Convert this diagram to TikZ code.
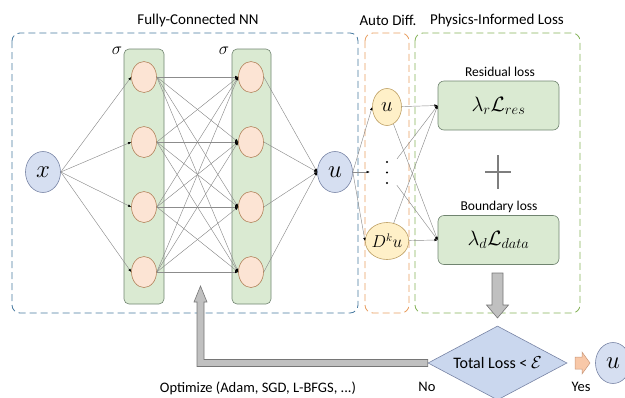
\documentclass[tikz,border=0pt]{standalone}
\usepackage{fontspec}
\setmainfont{Carlito}
\usetikzlibrary{shapes.geometric,arrows.meta,calc}

\definecolor{nnBlue}{RGB}{72,122,160}
\definecolor{adOrange}{RGB}{232,158,96}
\definecolor{lossGreen}{RGB}{132,178,88}
\definecolor{ioFill}{RGB}{214,223,241}
\definecolor{ioLine}{RGB}{120,132,165}
\definecolor{colFill}{RGB}{218,234,210}
\definecolor{colLine}{RGB}{112,132,112}
\definecolor{hidFill}{RGB}{252,228,212}
\definecolor{hidLine}{RGB}{178,132,92}
\definecolor{adFill}{RGB}{255,240,200}
\definecolor{adLine}{RGB}{190,160,100}
\definecolor{wireC}{RGB}{140,140,140}
\definecolor{blockFill}{RGB}{192,192,192}
\definecolor{blockLine}{RGB}{118,118,118}
\definecolor{yesFill}{RGB}{248,200,168}
\definecolor{yesLine}{RGB}{200,150,120}
\definecolor{diaFill}{RGB}{202,215,238}

\begin{document}
\begin{tikzpicture}[x=1pt,y=-1pt,
  group/.style={draw, line width=0.8pt, dash pattern=on 7pt off 4pt, rounded corners=8pt},
  title/.style={font=\fontsize{15}{17}\selectfont, inner sep=0pt},
  sublabel/.style={font=\fontsize{14.5}{16}\selectfont, inner sep=0pt},
  boxlabel/.style={font=\fontsize{13.5}{15}\selectfont, inner sep=0pt},
  ionode/.style={ellipse, draw=ioLine, fill=ioFill, line width=0.6pt, minimum width=35pt, minimum height=41pt, inner sep=0pt, font=\fontsize{25}{28}\selectfont},
  column/.style={draw=colLine, fill=colFill, line width=0.6pt, rounded corners=5pt, inner sep=0pt},
  hidden/.style={ellipse, draw=hidLine, fill=hidFill, line width=0.6pt, minimum width=25pt, minimum height=31pt, inner sep=0pt},
  adnode/.style={ellipse, draw=adLine, fill=adFill, line width=0.6pt, minimum width=29pt, minimum height=37pt, inner sep=0pt},
  lossbox/.style={draw=colLine, fill=colFill, line width=0.6pt, rounded corners=6pt, minimum width=121pt, minimum height=49pt, inner sep=0pt, font=\fontsize{21.5}{24}\selectfont},
  wire/.style={draw=wireC, line width=0.45pt, -{Latex[length=3.2pt,width=2.6pt,color=black]}},
  block/.style={draw=blockLine, fill=blockFill, line width=0.6pt},
]
\useasboundingbox (0,0) rectangle (625,397);

% group frames
\draw[group, nnBlue] (12,33) rectangle (358,313);
\draw[group, adOrange] (365,33) rectangle (409,313);
\draw[group, lossGreen] (415,33) rectangle (580,313);
\node[title] (tnn) at (198,20) {Fully-Connected NN};
\node[title] (tad) at (388,20) {Auto Diff.};
\node[title] (tpi) at (497,20) {Physics-Informed Loss};

% hidden layer columns
\node[column, minimum width=40pt, minimum height=255pt] (c1) at (144,176.5) {};
\node[column, minimum width=39pt, minimum height=255pt] (c2) at (251.5,176.5) {};
\node[font=\fontsize{18}{20}\selectfont, inner sep=0pt] (s1) at (117,51) {$\sigma$};
\node[font=\fontsize{18}{20}\selectfont, inner sep=0pt] (s2) at (224,51) {$\sigma$};

% input, hidden and output neurons
\node[ionode] (x) at (43,172) {$x$};
\foreach \i/\y in {1/77,2/142,3/207,4/272}{
  \node[hidden] (a\i) at (144,\y) {};
  \node[hidden] (b\i) at (251,\y) {};
}
\node[ionode] (u) at (335,172) {$u$};

% automatic differentiation outputs
\node[adnode, font=\fontsize{22}{24}\selectfont] (du) at (387,107) {$u$};
\node[minimum width=34pt, minimum height=26pt, inner sep=0pt] (dots) at (387,172) {};
\foreach \y in {162,172.5,183} \fill (387,\y) circle (1.2pt);
\node[adnode, font=\fontsize{16}{18}\selectfont] (dk) at (387,241) {$D^ku$};

% loss terms
\node[boxlabel] (lres) at (500,72) {Residual loss};
\node[lossbox] (res) at (498.5,105.5) {$\lambda_r\mathcal{L}_{res}$};
\node[boxlabel] (lbnd) at (499,207) {Boundary loss};
\node[lossbox] (bnd) at (498.5,240) {$\lambda_d\mathcal{L}_{data}$};
\draw[wireC!90!black, line width=2.6pt] (485,172) -- (511,172) (498,155) -- (498,189);

% stopping test and result
\node[diamond, draw=ioLine, fill=diaFill, line width=0.6pt, minimum width=139pt, minimum height=74pt, aspect=1.88, inner sep=0pt, font=\fontsize{16}{18}\selectfont] (stop) at (497.5,363) {Total Loss < $\mathcal{E}$};
\node[ionode] (uo) at (613,363) {$u$};
\node[sublabel] (lno) at (427,387) {No};
\node[sublabel] (lyes) at (581,387) {Yes};

% connections of the network
\foreach \i in {1,...,4}{
  \draw[wire] (x.east) -- (a\i.west);
  \foreach \j in {1,...,4} \draw[wire] (a\i.east) -- (b\j.west);
  \draw[wire] (b\i.east) -- (u.west);
}
\draw[wire] (u.east) -- (du.west);
\draw[wire] (u.east) -- (dots.west);
\draw[wire] (u.east) -- (dk.west);
\foreach \s in {du,dots,dk}{
  \draw[wire] (\s) -- (res.west);
  \draw[wire] (\s) -- (bnd.west);
}

% block arrows
\draw[block] (492,273) -- (492,305) -- (486.5,305) -- (497.5,318) -- (508.5,305) -- (503,305) -- (503,273) -- cycle;
\draw[block] ($(stop.west)+(0,-3.5)$) -- (204,359.5) -- (204,302) -- (207,302) -- (200.5,286) -- (194,302) -- (197,302) -- (197,366.5) -- ($(stop.west)+(0,3.5)$) -- cycle;
\node[sublabel] (lopt) at (258,388) {Optimize (Adam, SGD, L-BFGS, ...)};
\draw[draw=yesLine, fill=yesFill, line width=0.5pt] (575,357) -- (582,357) -- (582,352) -- (590,363) -- (582,374) -- (582,369) -- (575,369) -- cycle;
\end{tikzpicture}
\end{document}
